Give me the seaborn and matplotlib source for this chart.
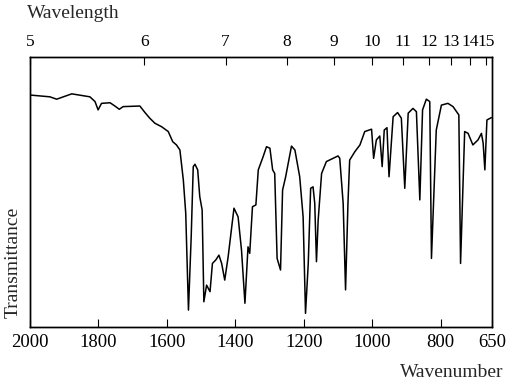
import matplotlib
matplotlib.use("Agg")
import matplotlib.pyplot as plt
import seaborn as sns
import pandas as pd
import numpy as np

numero_onda = [2000, 1942, 1922, 1878, 1825, 1810, 1801, 1791, 1766, 1752,
               1739, 1728, 1679, 1664, 1650, 1635, 1615, 1596, 1583, 1572,
               1562, 1552, 1545, 1537, 1529, 1523, 1518, 1510, 1504, 1497,
               1492, 1484, 1474, 1467, 1457, 1448, 1440, 1431, 1421, 1404,
               1392, 1382, 1372, 1363, 1358, 1350, 1340, 1333, 1319, 1309,
               1299, 1291, 1285, 1278, 1268, 1262, 1253, 1236, 1226, 1212,
               1202, 1195, 1187, 1180, 1173, 1168, 1163, 1158, 1148, 1134,
               1100, 1095, 1085, 1078, 1071, 1066, 1051, 1036, 1022, 1002,
               996, 988, 978, 971, 965, 957, 951, 939, 926, 915,
               905, 895, 881, 871, 861, 853, 842, 832, 827, 813,
               798, 779, 764, 747, 742, 730, 720, 706, 691, 681,
               676, 671, 665, 652]
transmitancia = [78.1, 77.5, 76.7, 78.5, 77.5, 75.9, 73.1, 75.3, 75.5, 74.4,
                 73.3, 74.2, 74.4, 72.2, 70.3, 68.6, 67.4, 65.8, 62.4, 61.3,
                 59.6, 49.5, 38.4, 5.7, 30.4, 54.0, 54.8, 52.9, 43.9, 39.4,
                 8.5, 14.1, 11.9, 21.4, 22.6, 24.2, 21.4, 15.8, 23.7, 40.0,
                 37.1, 25.9, 8.0, 27.0, 24.8, 40.5, 41.1, 52.9, 57.3, 60.7,
                 60.2, 52.9, 51.7, 23.1, 19.2, 46.1, 50.6, 60.9, 59.6, 50.6,
                 37.1, 4.6, 21.4, 46.7, 47.2, 41.6, 22.0, 36.0, 51.7, 55.7,
                 57.6, 56.8, 41.6, 12.5, 41.6, 56.2, 59.0, 61.3, 65.8, 66.6,
                 56.8, 63.0, 64.3, 54.0, 66.3, 67.1, 50.6, 70.8, 72.2, 70.3,
                 46.7, 72.0, 73.6, 72.5, 42.8, 73.1, 76.7, 75.9, 23.1, 66.3,
                 74.7, 75.3, 74.2, 71.4, 21.4, 65.8, 65.2, 61.3, 63.0, 65.2,
                 61.9, 52.9, 69.7, 70.5]

ticks_inferiores = [2000, 1800, 1600, 1400, 1200, 1000, 800, 650]
longitudes_onda = [5, 6, 7, 8, 9, 10, 11, 12, 13, 14, 15]

datos = pd.DataFrame({"Wavenumber": numero_onda, "Transmittance": transmitancia})

sns.set_theme(style="white")
plt.rcParams["font.family"] = ["Liberation Serif", "DejaVu Serif"]

fig = plt.figure(figsize=(5.1, 3.86), dpi=100)
ax = fig.add_axes([0.0588, 0.1528, 0.906, 0.6995])

sns.lineplot(data=datos, x="Wavenumber", y="Transmittance", ax=ax,
             color="black", linewidth=1.1)

ax.set_xlim(2000, 650)
ax.set_ylim(0, 90.9)
ax.set_yticks([])
ax.set_xticks(ticks_inferiores)
ax.set_xticklabels([str(t) for t in ticks_inferiores], fontsize=13.5)
ax.tick_params(axis="x", direction="in", length=6, width=0.8, pad=5,
               bottom=True, colors="black")
ax.set_xlabel("")
ax.set_ylabel("")
for s in ax.spines.values():
    s.set_color("black")
    s.set_linewidth(1.0)

# eje superior con la longitud de onda
ax2 = ax.twiny()
ax2.set_xlim(ax.get_xlim())
ax2.set_xticks([1e4 / l for l in longitudes_onda])
ax2.set_xticklabels([str(l) for l in longitudes_onda], fontsize=12.5)
ax2.tick_params(axis="x", direction="in", length=6, width=0.8, pad=5,
                top=True, colors="black")
for s in ax2.spines.values():
    s.set_color("black")
    s.set_linewidth(1.0)

fig.text(0.053, 0.966, "Wavelength", fontsize=14, ha="left", va="center")
fig.text(0.987, 0.036, "Wavenumber", fontsize=14, ha="right", va="center")
fig.text(0.026, 0.321, "Transmittance", fontsize=14, rotation=90,
         ha="center", va="center")

fig.savefig("out.png", dpi=100)
